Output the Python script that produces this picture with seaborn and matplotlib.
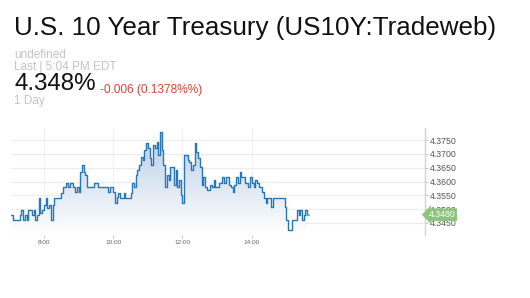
import numpy as np
import pandas as pd
import matplotlib
matplotlib.use("Agg")
import matplotlib.pyplot as plt
import seaborn as sns
from matplotlib.patches import Polygon
from matplotlib.colors import LinearSegmentedColormap

# ---- data ----
start_hour = 7.05            # first sample 7:03, 3-minute steps
step_hours = 0.05
yields = [
    4.3478, 4.3460, 4.3460, 4.3460, 4.3460, 4.3478, 4.3496, 4.3460, 4.3478, 4.3460,
    4.3496, 4.3496, 4.3478, 4.3496, 4.3460, 4.3478, 4.3540, 4.3485, 4.3496, 4.3514,
    4.3540, 4.3503, 4.3514, 4.3460, 4.3514, 4.3540, 4.3540, 4.3540, 4.3540, 4.3558,
    4.3580, 4.3580, 4.3594, 4.3580, 4.3594, 4.3594, 4.3580, 4.3561, 4.3580, 4.3561,
    4.3634, 4.3659, 4.3634, 4.3623, 4.3580, 4.3580, 4.3580, 4.3580, 4.3594, 4.3594,
    4.3580, 4.3580, 4.3580, 4.3580, 4.3580, 4.3580, 4.3561, 4.3580, 4.3580, 4.3561,
    4.3521, 4.3543, 4.3558, 4.3540, 4.3540, 4.3558, 4.3540, 4.3540, 4.3540, 4.3558,
    4.3594, 4.3580, 4.3623, 4.3641, 4.3659, 4.3688, 4.3678, 4.3714, 4.3739, 4.3721,
    4.3685, 4.3659, 4.3732, 4.3721, 4.3743, 4.3696, 4.3779, 4.3714, 4.3659, 4.3580,
    4.3623, 4.3605, 4.3652, 4.3652, 4.3587, 4.3641, 4.3580, 4.3605, 4.3551, 4.3521,
    4.3696, 4.3696, 4.3678, 4.3670, 4.3641, 4.3659, 4.3739, 4.3707, 4.3685, 4.3652,
    4.3587, 4.3616, 4.3580, 4.3569, 4.3569, 4.3587, 4.3580, 4.3605, 4.3580, 4.3580,
    4.3594, 4.3594, 4.3616, 4.3594, 4.3616, 4.3616, 4.3587, 4.3580, 4.3561, 4.3587,
    4.3616, 4.3594, 4.3634, 4.3616, 4.3616, 4.3594, 4.3594, 4.3580, 4.3616, 4.3594,
    4.3580, 4.3605, 4.3594, 4.3580, 4.3580, 4.3561, 4.3540, 4.3521, 4.3540, 4.3540,
    4.3507, 4.3540, 4.3540, 4.3540, 4.3540, 4.3540, 4.3540, 4.3540, 4.3507, 4.3460,
    4.3424, 4.3424, 4.3460, 4.3460, 4.3460, 4.3496, 4.3478, 4.3496, 4.3460, 4.3478,
    4.3496, 4.3480,
]
x_tick_hours = [8, 10, 12, 14]
x_tick_labels = ["8:00", "10:00", "12:00", "14:00"]
y_ticks = [4.3450, 4.3500, 4.3550, 4.3600, 4.3650, 4.3700, 4.3750]
last_value = 4.3480

title = "U.S. 10 Year Treasury (US10Y:Tradeweb)"
sub1 = "undefined"
sub2 = "Last | 5:04 PM EDT"
price = "4.348%"
change = "-0.006 (0.1378%%)"
period = "1 Day"

hours = [start_hour + i * step_hours for i in range(len(yields))]
df = pd.DataFrame({"hour": hours, "yield": yields})

sns.set_theme(style="white")
plt.rcParams["font.family"] = ["Liberation Sans", "DejaVu Sans"]

W, H = 530, 298
fig = plt.figure(figsize=(W / 100, H / 100), dpi=100)
fig.patch.set_facecolor("white")

def fx(px):
    return px / W

def fy(py):
    return 1 - py / H

# header text (baselines)
gray = "#c4c4c4"
fig.text(fx(13.5), fy(34.5), title, fontsize=18.7, color="#111111", va="baseline", ha="left")
fig.text(fx(14), fy(58.0), sub1, fontsize=8.5, color=gray, va="baseline", ha="left")
fig.text(fx(14), fy(69.8), sub2, fontsize=8.5, color=gray, va="baseline", ha="left")
fig.text(fx(14.5), fy(90.5), price, fontsize=17.4, color="#111111", va="baseline", ha="left")
fig.text(fx(100), fy(93.3), change, fontsize=8.6, color="#e0413a", va="baseline", ha="left")
fig.text(fx(14), fy(104), period, fontsize=8.5, color=gray, va="baseline", ha="left")

# chart axes
left, right, top, bottom = 11, 425, 128, 235
ax = fig.add_axes([fx(left), fy(bottom), fx(right - left), (bottom - top) / H])
ax.set_facecolor("white")
xlim = (7.05, 19.0)
ylim = (4.34065, 4.37942)

# step outline used for the gradient area
sx, sy = [], []
for i in range(len(hours)):
    sx.append(hours[i]); sy.append(yields[i])
    if i + 1 < len(hours):
        sx.append(hours[i + 1]); sy.append(yields[i])

grad = np.linspace(0, 1, 256).reshape(-1, 1)
cmap = LinearSegmentedColormap.from_list("g", ["#ffffff", "#b7cce6"])
verts = [(sx[0], ylim[0])] + list(zip(sx, sy)) + [(sx[-1], ylim[0])]
poly = Polygon(verts, closed=True, facecolor="none", edgecolor="none")
ax.add_patch(poly)
img = ax.imshow(grad, extent=[hours[0], hours[-1], ylim[0], 4.3785], origin="lower",
                cmap=cmap, aspect="auto", zorder=1, vmin=0, vmax=1)
img.set_clip_path(poly)

sns.lineplot(data=df, x="hour", y="yield", ax=ax, color="#2676b8", linewidth=1.0,
             zorder=3, drawstyle="steps-post")
ax.plot([hours[-1] - 0.02, hours[-1] + 0.05], [last_value, last_value], color="#33b5f0",
        linewidth=1.3, zorder=4)

ax.set_xlim(*xlim)
ax.set_ylim(*ylim)

# grid
for yv in y_ticks:
    ax.axhline(yv, color="#ececec", linewidth=0.8, zorder=0)
for xv in x_tick_hours:
    ax.axvline(xv, color="#f0f0f0", linewidth=0.8, zorder=0)

for s in ["top", "left", "bottom"]:
    ax.spines[s].set_visible(False)
ax.spines["right"].set_color("#cfcfcf")
ax.spines["right"].set_linewidth(0.9)

ax.yaxis.tick_right()
ax.set_yticks(y_ticks)
ax.set_yticklabels([f"{v:.4f}" for v in y_ticks])
ax.tick_params(axis="y", right=True, length=2.5, width=0.6, color="#bbbbbb",
               labelsize=6.3, labelcolor="#555555", pad=1)
ax.set_xticks(x_tick_hours)
ax.set_xticklabels(x_tick_labels)
ax.tick_params(axis="x", bottom=True, length=2, width=0.6, color="#bbbbbb",
               labelsize=4.6, labelcolor="#666666", pad=1.5)
ax.set_xlabel("")
ax.set_ylabel("")

# last value tag
ax.annotate(f"{last_value:.4f}", xy=(1.0, last_value),
            xycoords=("axes fraction", "data"), xytext=(2.5, 0), textcoords="offset points",
            fontsize=6.3, color="white", va="center", ha="left",
            bbox=dict(boxstyle="larrow,pad=0.2", facecolor="#8cc47a", edgecolor="none"),
            zorder=6, annotation_clip=False)

fig.savefig("out.png", dpi=100, facecolor="white")
